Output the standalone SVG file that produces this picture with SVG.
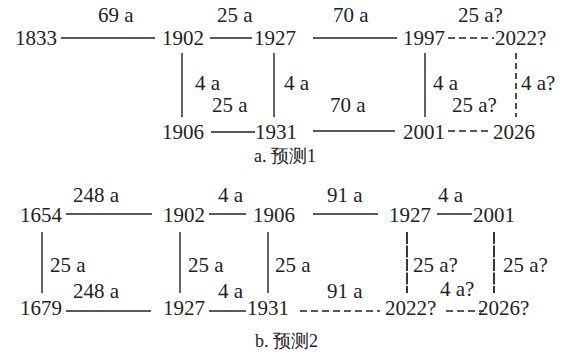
<svg xmlns="http://www.w3.org/2000/svg" width="565" height="354" viewBox="0 0 565 354">
<defs>
<style>
text{font-family:"Liberation Serif","Times New Roman",serif}
</style>
</defs>
<rect width="565" height="354" fill="#fff"/>
<g id="connectors" stroke="#222" stroke-width="1.4" fill="none">
<line x1="61" y1="38" x2="155" y2="38"/>
<line x1="210" y1="38" x2="252" y2="38"/>
<line x1="313" y1="38" x2="397" y2="38"/>
<line stroke-dasharray="7 4" x1="448" y1="38" x2="494" y2="38"/>
<line x1="182" y1="53" x2="182" y2="117"/>
<line x1="274" y1="53" x2="274" y2="117"/>
<line x1="425" y1="53" x2="425" y2="117"/>
<line stroke-dasharray="6 4" stroke-width="1.6" x1="516" y1="53" x2="516" y2="117"/>
<line x1="211" y1="132" x2="255" y2="132"/>
<line x1="313" y1="131" x2="395" y2="131"/>
<line stroke-dasharray="7 4" x1="448" y1="131" x2="492" y2="131"/>
<line x1="66" y1="214" x2="152" y2="214"/>
<line x1="209" y1="214" x2="246" y2="214"/>
<line x1="313" y1="214" x2="378" y2="214"/>
<line x1="437" y1="214" x2="472" y2="214"/>
<line x1="42" y1="232" x2="42" y2="293"/>
<line x1="180" y1="232" x2="180" y2="293"/>
<line x1="268" y1="232" x2="268" y2="293"/>
<line stroke-dasharray="12 1.5" stroke-width="1.8" x1="407" y1="232" x2="407" y2="293"/>
<line stroke-dasharray="12 1.5" stroke-width="1.8" x1="494" y1="232" x2="494" y2="293"/>
<line x1="66" y1="311" x2="151" y2="311"/>
<line x1="209" y1="311" x2="246" y2="311"/>
<line stroke-dasharray="7 4" x1="300" y1="311" x2="380" y2="311"/>
<line stroke-dasharray="7 4" x1="446" y1="311" x2="484" y2="311"/>
</g>
<g font-family="Liberation Serif, serif" font-size="21" fill="#222">
<g id="labels-a">
<text x="98" y="22">69 a</text>
<text x="217" y="22">25 a</text>
<text x="333" y="22">70 a</text>
<text x="458" y="22">25 a?</text>
<text x="195" y="90">4 a</text>
<text x="284" y="90">4 a</text>
<text x="433" y="90">4 a</text>
<text x="521" y="90">4 a?</text>
<text x="212" y="112">25 a</text>
<text x="330" y="112">70 a</text>
<text x="452" y="112">25 a?</text>
</g>
<g id="n1833"><text x="15" y="45">1833</text></g>
<g id="n1902a"><text x="162" y="45">1902</text></g>
<g id="n1927a"><text x="254" y="45">1927</text></g>
<g id="n1997"><text x="403" y="45">1997</text></g>
<g id="n2022a"><text x="495" y="45">2022?</text></g>
<g id="n1906a"><text x="162" y="139">1906</text></g>
<g id="n1931a"><text x="255" y="139">1931</text></g>
<g id="n2001a"><text x="403" y="139">2001</text></g>
<g id="n2026a"><text x="493" y="139">2026</text></g>
<text x="254" y="162" font-size="18" font-family="Liberation Serif, Noto Sans CJK SC, serif">a. 预测1</text>
<g id="labels-b">
<text x="73" y="202">248 a</text>
<text x="218" y="202">4 a</text>
<text x="327" y="202">91 a</text>
<text x="438" y="202">4 a</text>
<text x="50" y="272">25 a</text>
<text x="188" y="272">25 a</text>
<text x="275" y="272">25 a</text>
<text x="413" y="272">25 a?</text>
<text x="503" y="272">25 a?</text>
<text x="73" y="298">248 a</text>
<text x="218" y="298">4 a</text>
<text x="327" y="298">91 a</text>
<text x="440" y="296">4 a?</text>
</g>
<g id="n1654"><text x="20" y="222">1654</text></g>
<g id="n1902b"><text x="163" y="222">1902</text></g>
<g id="n1906b"><text x="253" y="222">1906</text></g>
<g id="n1927b"><text x="389" y="222">1927</text></g>
<g id="n2001b"><text x="473" y="222">2001</text></g>
<g id="n1679"><text x="20" y="315">1679</text></g>
<g id="n1927c"><text x="163" y="315">1927</text></g>
<g id="n1931b"><text x="247" y="315">1931</text></g>
<g id="n2022b"><text x="385" y="315">2022?</text></g>
<g id="n2026b"><text x="478" y="315">2026?</text></g>
<text x="255" y="347" font-size="18" font-family="Liberation Serif, Noto Sans CJK SC, serif">b. 预测2</text>
</g>
</svg>
